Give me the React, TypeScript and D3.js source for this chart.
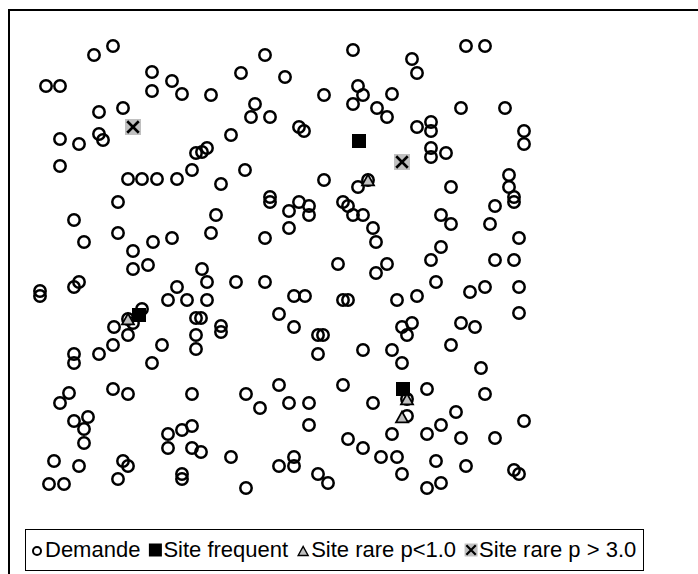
import React, { useEffect, useRef } from 'react';
import * as d3 from 'd3';

// demand points [x, y] in map units
const demande: [number, number][] = [
  [64, 445], [83, 454], [16, 414], [30, 414], [122, 428], [122, 409], [142, 419], [152, 406], [181, 405],
  [69, 388], [93, 392], [30, 361], [49, 356], [69, 366], [73, 360], [30, 334], [98, 321], [112, 321],
  [127, 321], [147, 321], [162, 330], [166, 347], [172, 348], [177, 352], [323, 450], [235, 445], [211, 427],
  [255, 423], [294, 405], [328, 414], [333, 405], [323, 396], [347, 392], [225, 396], [221, 383], [240, 383],
  [269, 373], [274, 369], [201, 365], [215, 330], [191, 316], [294, 320], [338, 320], [328, 313], [436, 454],
  [455, 454], [382, 441], [387, 427], [362, 406], [357, 383], [431, 392], [475, 392], [387, 373], [401, 378],
  [401, 369], [494, 369], [494, 356], [401, 352], [401, 343], [416, 347], [479, 325], [479, 313], [421, 313],
  [88, 298], [44, 280], [54, 258], [88, 267], [103, 249], [123, 258], [142, 262], [103, 231], [118, 235],
  [10, 209], [10, 204], [44, 213], [49, 218], [147, 213], [172, 231], [138, 200], [157, 200], [112, 191],
  [98, 181], [103, 177], [84, 173], [98, 165], [166, 182], [171, 182], [166, 165], [240, 303], [240, 298],
  [269, 298], [259, 289], [279, 294], [279, 285], [313, 298], [318, 294], [323, 285], [333, 285], [343, 272],
  [346, 258], [186, 285], [181, 267], [235, 262], [259, 272], [308, 236], [346, 227], [177, 218], [206, 218],
  [235, 218], [264, 204], [275, 204], [313, 200], [318, 200], [177, 200], [249, 186], [191, 174], [191, 168],
  [264, 173], [288, 165], [293, 165], [484, 303], [484, 298], [465, 294], [411, 285], [421, 276], [460, 276],
  [489, 262], [411, 253], [401, 240], [465, 240], [484, 240], [357, 236], [406, 218], [440, 208], [455, 213],
  [489, 213], [367, 200], [387, 204], [489, 187], [372, 173], [382, 177], [377, 165], [431, 177], [445, 173],
  [83, 155], [69, 146], [44, 146], [44, 137], [132, 155], [122, 137], [166, 151], [39, 107], [30, 97],
  [83, 111], [98, 106], [162, 106], [44, 79], [58, 83], [54, 71], [54, 57], [138, 66], [138, 52],
  [152, 70], [162, 74], [162, 52], [171, 48], [24, 39], [49, 34], [93, 39], [98, 34], [88, 21],
  [19, 16], [34, 16], [152, 26], [152, 21], [288, 146], [333, 150], [216, 106], [230, 92], [249, 115],
  [259, 97], [279, 97], [313, 115], [343, 97], [279, 75], [318, 61], [333, 52], [351, 43], [201, 43],
  [249, 34], [264, 43], [264, 34], [288, 26], [298, 17], [216, 12], [362, 150], [372, 137], [421, 155],
  [451, 132], [397, 111], [377, 101], [455, 106], [377, 84], [426, 88], [411, 75], [362, 66], [397, 66],
  [431, 62], [465, 62], [494, 79], [367, 43], [406, 39], [436, 34], [484, 30], [489, 26], [372, 26],
  [397, 12], [411, 17],
];
const siteFrequent: [number, number][] = [[329, 359], [109, 185], [373, 111]];
const siteRareLow: [number, number][] = [[338, 320], [98, 181], [377, 101], [372, 83]];
const siteRareHigh: [number, number][] = [[103, 373], [372, 338]];

const legendLabels = ['Demande', 'Site frequent', 'Site rare p<1.0', 'Site rare p > 3.0'];

const W = 698;
const H = 574;
const GREY = '#c0c0c0';

export default function App() {
  const svgRef = useRef<SVGSVGElement | null>(null);

  useEffect(() => {
    if (!svgRef.current) return;
    const svg = d3.select(svgRef.current);
    svg.selectAll('*').remove();

    const x = d3.scaleLinear().domain([0, 520]).range([30, 550]);
    const y = d3.scaleLinear().domain([0, 470]).range([500, 30]);

    // outer frame (only top and left fall inside the window)
    svg.append('rect')
      .attr('x', 9).attr('y', 10).attr('width', 720).attr('height', 620)
      .attr('fill', 'none').attr('stroke', '#000').attr('stroke-width', 2);

    // demand circles
    svg.append('g')
      .selectAll('circle')
      .data(demande)
      .enter()
      .append('circle')
      .attr('cx', (d) => x(d[0]))
      .attr('cy', (d) => y(d[1]))
      .attr('r', 5.7)
      .attr('fill', 'none')
      .attr('stroke', '#000')
      .attr('stroke-width', 2.5);

    const drawSquare = (g: any, cx: number, cy: number, s: number) =>
      g.append('rect').attr('x', cx - s / 2).attr('y', cy - s / 2).attr('width', s).attr('height', s).attr('fill', '#000');

    const drawTriangle = (g: any, cx: number, cy: number, s: number, sw: number) => {
      const h = s * 0.9;
      g.append('path')
        .attr('d', `M${cx - s / 2},${cy + h / 2}L${cx},${cy - h / 2}L${cx + s / 2},${cy + h / 2}Z`)
        .attr('fill', GREY)
        .attr('stroke', '#000')
        .attr('stroke-width', sw)
        .attr('stroke-linejoin', 'miter');
    };

    const drawCross = (g: any, cx: number, cy: number, s: number, sw: number) => {
      g.append('rect').attr('x', cx - s / 2).attr('y', cy - s / 2).attr('width', s).attr('height', s).attr('fill', GREY);
      const a = s * 0.36;
      g.append('path')
        .attr('d', `M${cx - a},${cy - a}L${cx + a},${cy + a}M${cx + a},${cy - a}L${cx - a},${cy + a}`)
        .attr('stroke', '#000')
        .attr('stroke-width', sw);
    };

    const sites = svg.append('g');
    siteFrequent.forEach((d) => drawSquare(sites, x(d[0]), y(d[1]), 14));
    siteRareLow.forEach((d) => drawTriangle(sites, x(d[0]), y(d[1]), 12, 1.8));
    siteRareHigh.forEach((d) => drawCross(sites, x(d[0]), y(d[1]), 16, 2.6));

    // legend
    const leg = svg.append('g');
    leg.append('rect')
      .attr('x', 25.5).attr('y', 529.5).attr('width', 618).attr('height', 41)
      .attr('fill', '#fff').attr('stroke', '#000').attr('stroke-width', 1);

    const baseline = 557;
    const iconY = 550;
    let cx = 31;
    legendLabels.forEach((label, i) => {
      const iconW = 12;
      const ic = cx + iconW / 2;
      if (i === 0) {
        leg.append('circle').attr('cx', ic).attr('cy', iconY + 1).attr('r', 4)
          .attr('fill', 'none').attr('stroke', '#000').attr('stroke-width', 2);
      } else if (i === 1) {
        drawSquare(leg, ic, iconY, 13);
      } else if (i === 2) {
        drawTriangle(leg, ic, iconY + 1, 10, 1.4);
      } else {
        drawCross(leg, ic, iconY, 13, 2.2);
      }
      const t = leg.append('text')
        .attr('x', cx + iconW + 2)
        .attr('y', baseline)
        .attr('font-family', '"Liberation Sans", Arial, sans-serif')
        .attr('font-size', 22)
        .attr('fill', '#000')
        .text(label);
      const len = (t.node() as SVGTextElement).getComputedTextLength();
      cx = cx + iconW + 2 + len + 9;
    });
  }, []);

  return (
    <svg
      ref={svgRef}
      width={W}
      height={H}
      style={{ position: 'absolute', left: 0, top: 0, background: '#fff' }}
    ></svg>
  );
}
